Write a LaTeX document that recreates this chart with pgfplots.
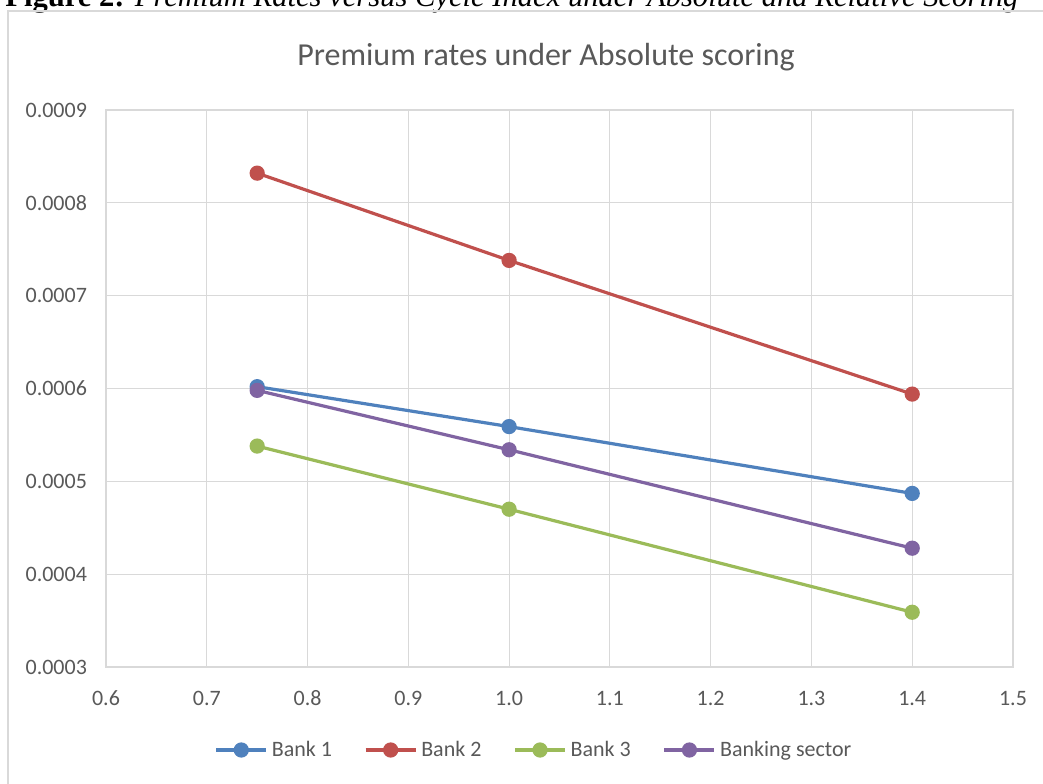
\documentclass[border=0pt]{standalone}
\usepackage{pgfplots}
\pgfplotsset{compat=1.18}
\usepackage{fontspec}
\setmainfont{Carlito}
\newfontfamily\capfont{Liberation Serif}
\definecolor{cB1}{HTML}{4F81BD}
\definecolor{cB2}{HTML}{C0504D}
\definecolor{cB3}{HTML}{9BBB59}
\definecolor{cBS}{HTML}{8064A2}
\definecolor{txt}{HTML}{595959}
\definecolor{grd}{HTML}{D9D9D9}
\begin{document}
\begin{tikzpicture}
\path[use as bounding box, clip] (0,0) rectangle (521.5pt,-391.5pt);
\fill[white] (0,0) rectangle (521.5pt,-391.5pt);
% caption (partly cut at top, as in the reference)
\node[anchor=base west, inner sep=0pt] at (2.5pt,-3.2pt) {\resizebox{506.5pt}{!}{\capfont\textbf{Figure 2:} \textit{Premium Rates versus Cycle Index under Absolute and Relative Scoring}}};
% chart frame
\draw[grd, line width=0.8pt] (4pt,-5.5pt) rectangle (530pt,-400pt);
% title
\node[anchor=base, text=txt, font=\fontsize{16}{19}\selectfont, inner sep=0pt] at (273pt,-32.5pt) {Premium rates under Absolute scoring};
\begin{axis}[
  at={(53pt,-333.5pt)}, anchor=south west,
  scale only axis, width=453.5pt, height=278.5pt,
  xmin=0.6, xmax=1.5, ymin=0.0003, ymax=0.0009,
  xtick={0.6,0.7,0.8,0.9,1.0,1.1,1.2,1.3,1.4,1.5},
  ytick={0.0003,0.0004,0.0005,0.0006,0.0007,0.0008,0.0009},
  scaled y ticks=false, scaled x ticks=false,
  grid=major, grid style={grd, line width=0.6pt},
  axis line style={grd, line width=0.6pt},
  major tick length=0pt,
  tick label style={font=\fontsize{11}{13}\selectfont, text=txt},
  /pgf/number format/assume math mode=true,
  yticklabel style={/pgf/number format/fixed, /pgf/number format/fixed zerofill, /pgf/number format/precision=4, xshift=-6pt},
  xticklabel style={/pgf/number format/fixed, /pgf/number format/fixed zerofill, /pgf/number format/precision=1, yshift=-8pt, text height=7.5pt, text depth=0pt},
  legend columns=4,
  legend style={at={(0.473,-0.149)}, anchor=center, draw=none, fill=none,
    font=\fontsize{11}{13}\selectfont, text=txt,
    /tikz/every even column/.append style={column sep=14pt}},
  legend image code/.code={\draw[mark repeat=2, mark phase=2] plot coordinates {(0pt,0pt) (12.5pt,0pt) (25pt,0pt)};},
  every axis plot/.append style={line width=1.6pt, mark=*, mark size=3pt},
]
\addplot[cB1, mark options={fill=cB1}] coordinates {(0.75,0.000602) (1.0,0.000559) (1.4,0.000487)};
\addlegendentry{Bank 1}
\addplot[cB2, mark options={fill=cB2}] coordinates {(0.75,0.000832) (1.0,0.000738) (1.4,0.000594)};
\addlegendentry{Bank 2}
\addplot[cB3, mark options={fill=cB3}] coordinates {(0.75,0.000538) (1.0,0.000470) (1.4,0.000359)};
\addlegendentry{Bank 3}
\addplot[cBS, mark options={fill=cBS}] coordinates {(0.75,0.000598) (1.0,0.000534) (1.4,0.000428)};
\addlegendentry{Banking sector}
\end{axis}
\end{tikzpicture}
\end{document}
